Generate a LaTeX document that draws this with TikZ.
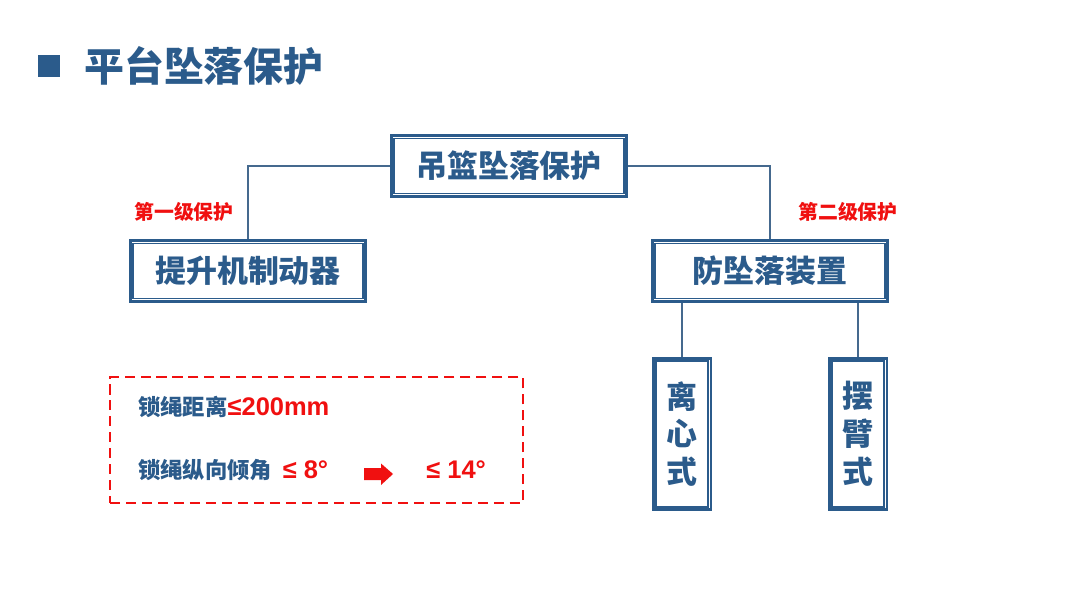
\documentclass[tikz,border=0pt]{standalone}
\usepackage{fontspec}
\setmainfont{Noto Sans CJK SC}
\newfontfamily\latin{Liberation Sans}
\usepackage{xcolor}
\usepackage{tikz}
\usetikzlibrary{arrows.meta,positioning,calc}
\definecolor{accent}{HTML}{2B5B8B}
\definecolor{wire}{HTML}{45698E}
\definecolor{warn}{HTML}{F01010}
\newcommand{\val}[1]{{\latin\fontsize{14.5}{16}\selectfont\bfseries\textcolor{warn}{#1}}}

\begin{document}
\begin{tikzpicture}[x=0.02cm,y=-0.02cm,
  box/.style={draw=accent,line width=1.7pt,fill=white,inner sep=0pt,
              font=\fontsize{17.6}{20}\selectfont\bfseries,text=accent},
  wide/.style={box,minimum width=4.72cm,minimum height=1.22cm},
  tall/.style={box,minimum width=1.16cm,minimum height=3.04cm,align=center,
               font=\fontsize{17.6}{21.5}\selectfont\bfseries},
  lvl/.style={font=\fontsize{11.3}{13}\selectfont\bfseries,text=warn},
  note/.style={font=\fontsize{12.7}{14}\selectfont\bfseries,text=accent,anchor=base west,inner sep=0pt},
  link/.style={draw=wire,line width=0.9pt}
]
\useasboundingbox[fill=white] (0,0) rectangle (1080,608);

% heading
\node[fill=accent,minimum size=0.44cm,inner sep=0pt] (mark) at (49,66) {};
\node[anchor=west,inner sep=0pt,text=accent,font=\fontsize{22.7}{26}\selectfont\bfseries]
  (title) at (84,66) {平台坠落保护};

% tree
\node[wide] (top)  at (509,166) {吊篮坠落保护};
\node[wide] (lift) at (248,271) {提升机制动器};
\node[wide] (fall) at (770,271) {防坠落装置};
\node[tall] (lix)  at (682,434) {离\\心\\式};
\node[tall] (bai)  at (858,434) {摆\\臂\\式};

% inner thin frame of every box
\foreach \n in {top,lift,fall,lix,bai}
  \draw[accent,line width=0.7pt] ([shift={(4.5,4.5)}]\n.north west) rectangle ([shift={(-4.5,-4.5)}]\n.south east);

\draw[link] (top.west) -| (lift.north);
\draw[link] (top.east) -| (fall.north);
\draw[link] (lix.north) -- (lix.north |- fall.south);
\draw[link] (bai.north) -- (bai.north |- fall.south);

\node[lvl] (one) at (184,212) {第一级保护};
\node[lvl] (two) at (848,212) {第二级保护};

% limits
\node[draw=warn,line width=1.5pt,dash pattern=on 5.7pt off 3.4pt,
      minimum width=8.26cm,minimum height=2.52cm] (frame) at (316.5,440) {};
\node[note] (gap) at (138,416) {锁绳距离\val{≤200mm}};
\node[note] (tilt) at (138,479) {锁绳纵向倾角\hspace{6pt}\val{≤ 8°}};
\coordinate (go) at (364,474);
\fill[warn] (go) ++(0,-6) -- ++(17,0) -- ++(0,-4.5) -- ++(12,10.5) -- ++(-12,11)
  -- ++(0,-5) -- ++(-17,0) -- cycle;
\node[note] (new) at (426,479) {\val{≤ 14°}};
\end{tikzpicture}
\end{document}
